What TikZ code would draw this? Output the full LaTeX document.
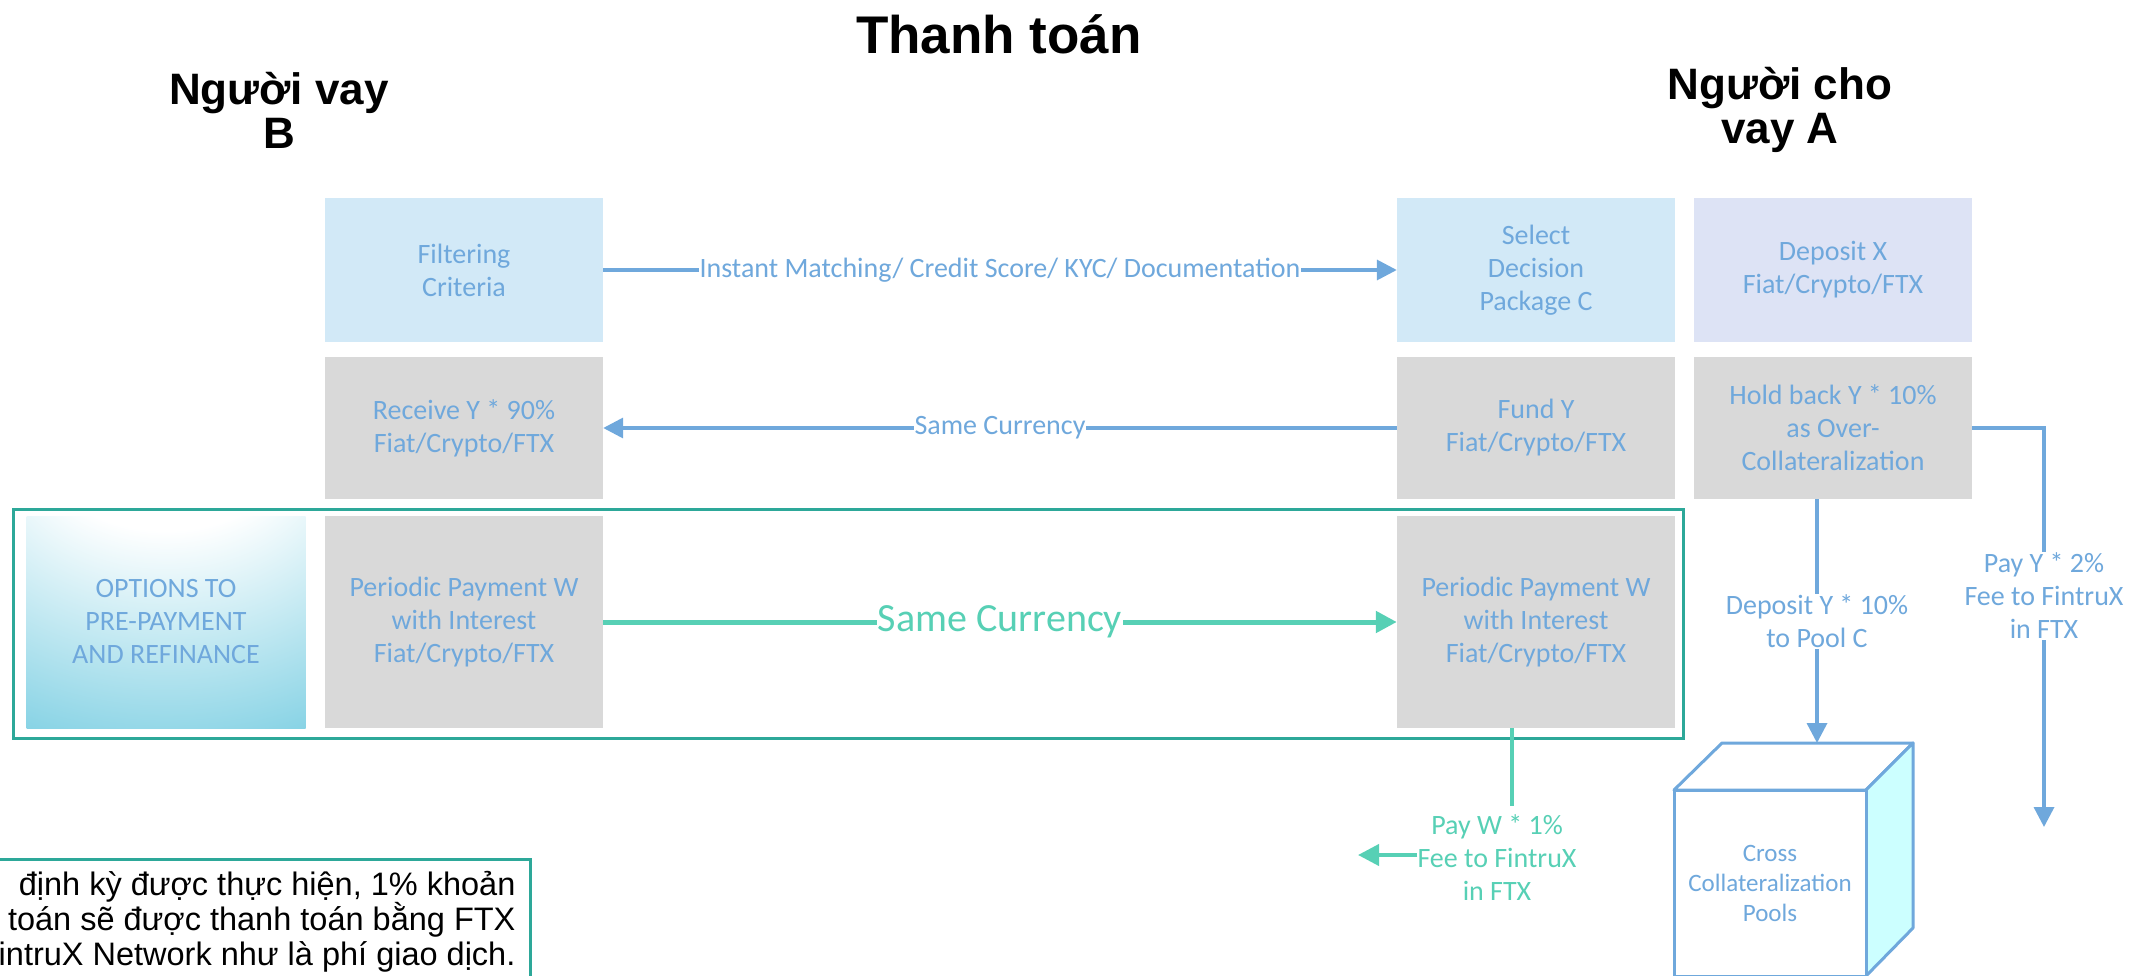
\documentclass[tikz,border=0pt]{standalone}
\usepackage{fontspec}
\setmainfont{Carlito}
\newfontfamily\headfont{Liberation Sans}
\usetikzlibrary{arrows.meta,positioning}
\definecolor{txtblue}{HTML}{6FA8DC}
\definecolor{lineblue}{HTML}{6FA8DC}
\definecolor{boxblue}{HTML}{D2E9F7}
\definecolor{boxlilac}{HTML}{DDE3F5}
\definecolor{boxgray}{HTML}{D9D9D9}
\definecolor{feeteal}{HTML}{57D0B5}
\definecolor{frameteal}{HTML}{2DA899}
\definecolor{optcyan}{HTML}{5FC4DC}
\definecolor{poolcyan}{HTML}{CCFFFF}
\pgfdeclareradialshading{optglow}{\pgfpoint{0bp}{60bp}}{color(0bp)=(white); color(24bp)=(white); color(68bp)=(optcyan); color(100bp)=(optcyan)}
\newcommand\boxtxt{\fontsize{28}{33}\selectfont}
\newcommand\bigtxt{\fontsize{40}{44}\selectfont}
\newcommand\pooltxt{\fontsize{25}{30}\selectfont}
\newcommand\notetxt{\headfont\fontsize{32.5}{35}\selectfont}
\newcommand\headtxt{\headfont\bfseries\fontsize{44}{44}\selectfont}
\tikzset{
    box/.style={minimum width=278pt,inner sep=0pt,align=center,text=txtblue,font=\boxtxt},
    lbl/.style={fill=white,inner sep=1pt,align=center,text=txtblue,font=\boxtxt},
    flow/.style={draw=lineblue,line width=3.5pt,-{Triangle[length=20pt,width=20pt]}},
    feeflow/.style={draw=feeteal,line width=5pt,-{Triangle[length=21pt,width=21pt]}},
    frame/.style={draw=frameteal,line width=3pt},
    pool/.style={draw=lineblue,line width=3pt,line join=round}
}
\begin{document}
\begin{tikzpicture}[x=1pt,y=-1pt]
    \useasboundingbox (0,0) rectangle (2131,976);
    \clip (0,0) rectangle (2131,976);
    % headings
    \node (title) at (999,54)[anchor=base,font=\headfont\bfseries\fontsize{53}{53}\selectfont]{Thanh toán};
    \node (borrower) at (279,110)[align=center,font=\headtxt]{Người vay\\B};
    \node (lender) at (1780,110)[align=center,font=\headtxt]{Người cho\\vay A};
    % boxes
    \node (filter) at (464,270)[box,minimum height=143pt,fill=boxblue]{Filtering\\Criteria};
    \node (select) at (1536,270)[box,minimum height=143pt,fill=boxblue]{Select\\Decision\\Package C};
    \node (deposit) at (1833,270)[box,minimum height=143pt,fill=boxlilac]{Deposit X\\Fiat/Crypto/FTX};
    \node (receive) at (464,428)[box,minimum height=142pt,fill=boxgray]{Receive Y * 90\%\\Fiat/Crypto/FTX};
    \node (fund) at (1536,428)[box,minimum height=142pt,fill=boxgray]{Fund Y\\Fiat/Crypto/FTX};
    \node (hold) at (1833,428)[box,minimum height=142pt,fill=boxgray]{Hold back Y * 10\%\\as Over-\\Collateralization};
    \node (options) at (166,622)[box,minimum width=279pt,minimum height=212pt,shading=optglow]{OPTIONS TO\\PRE-PAYMENT\\AND REFINANCE};
    \foreach \n/\x in {payL/464,payR/1536}
    {
        \node (\n) at (\x,622)[box,minimum height=212pt,fill=boxgray]{Periodic Payment W\\with Interest\\Fiat/Crypto/FTX};
    }
    \draw[frame] (13,509) rectangle (1683,738);
    % flows
    \draw[flow] (filter) -- node[lbl]{Instant Matching/ Credit Score/ KYC/ Documentation} (select);
    \draw[flow] (fund) -- node[lbl]{Same Currency} (receive);
    \draw[feeflow] (payL) -- node[lbl,text=feeteal,font=\bigtxt]{Same Currency} (payR);
    % pool
    \draw[pool,fill=white] (1674,790) -- (1722,743) -- (1913,743) -- (1866,790) -- cycle;
    \draw[pool,fill=poolcyan] (1866,790) -- (1913,743) -- (1913,928) -- (1866,976) -- cycle;
    \node (pool) at (1770,883)[pool,fill=white,minimum width=192pt,minimum height=186pt,inner sep=0pt,align=center,text=txtblue,font=\pooltxt]{Cross\\Collateralization\\Pools};
    \coordinate (pooltop) at (1817,743);
    \coordinate (feetip) at (2044,827);
    \draw[flow] (hold.south -| pooltop) -- node[lbl]{Deposit Y * 10\%\\to Pool C} (pooltop);
    \draw[flow] (hold.east) -| node[lbl,pos=0.71]{Pay Y * 2\%\\Fee to FintruX\\in FTX} (feetip);
    % fee on periodic payment
    \node (wfee) at (1497,858)[lbl,text=feeteal,inner sep=0pt]{Pay W * 1\%\\Fee to FintruX\\in FTX};
    \coordinate (wtap) at (1512,806);
    \coordinate (wtip) at (1358,855);
    \draw[draw=feeteal,line width=3.5pt] (payR.south -| wtap) -- (wtap);
    \draw[feeflow,line width=4pt] (wfee.west |- wtip) -- (wtip);
    % note
    \draw[frame,fill=white] (-10,859) rectangle (530,990);
    \node (note) at (519,922)[anchor=east,align=right,font=\notetxt]{định kỳ được thực hiện, 1\% khoản\\toán sẽ được thanh toán bằng FTX\\intruX Network như là phí giao dịch.};
\end{tikzpicture}
\end{document}
